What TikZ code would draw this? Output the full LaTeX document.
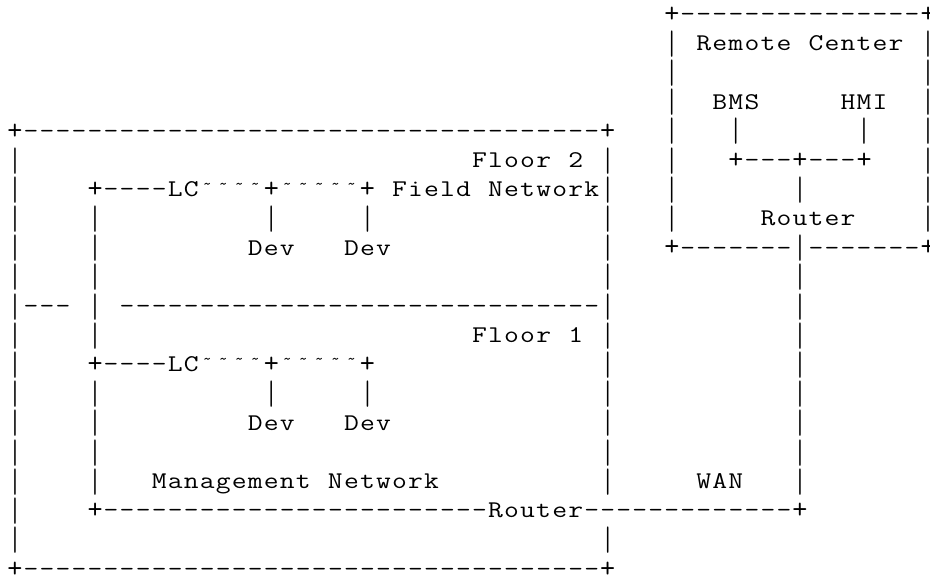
\documentclass[tikz,border=0pt]{standalone}
\usepackage{graphicx}

% width of one character cell of the grid
\newlength\cellw
\setlength\cellw{8.01pt}

% line-drawing characters, sized to fill their cells
\newcommand\asciidash{\resizebox{7.4pt}{\height}{-}}
\newcommand\asciibar{\raisebox{-3.2pt}{\resizebox*{\width}{13.2pt}{\raisebox{\depth}{|}}}}
\newcommand\asciiplus{\raisebox{-0.4pt}{\scalebox{1.22}{+}}}
\newcommand\asciitilde{\raisebox{3.6pt}{\resizebox{4.4pt}{!}{\char"7E}}}
% letters are set a little wider, like a typewriter face
\newcommand\asciiletter[1]{\scalebox{1.2}[1]{#1}}

% set a string one character per cell
\ExplSyntaxOn
\cs_new_protected:Npn \asc_glyph:n #1
  {
    \str_if_eq:eeTF {#1} { \c_tilde_str }
      { \makebox[\cellw]{\asciitilde} }
      {
        \str_case:nnF {#1}
          {
            { - } { \makebox[\cellw]{\asciidash} }
            { | } { \makebox[\cellw]{\asciibar} }
            { + } { \makebox[\cellw]{\asciiplus} }
          }
          { \makebox[\cellw]{\asciiletter{#1}} }
      }
  }
\NewDocumentCommand \ascii { m }
  { \str_map_inline:nn {#1} { \asc_glyph:n {##1} } }
\ExplSyntaxOff

\begin{document}
\begin{tikzpicture}[x=0.5pt,y=-0.5pt,
  asc/.style={anchor=base west,inner sep=0pt,outer sep=0pt,
    font=\ttfamily\fontsize{12pt}{14pt}\selectfont}]
\useasboundingbox (0,0) rectangle (930,577);
% text placed at grid column #2, row #3
\newcommand\gridtext[4]{\node[asc] (#1) at ({6.99+16.02*#2},{21.5+29.2*#3}) {\ascii{#4}};}

% ---- Remote Center ----
\gridtext{rcTop}{41}{0}{+---------------+}
\foreach \r in {1,2,3,4,5,6,7} {
  \gridtext{rcL\r}{41}{\r}{|}
  \gridtext{rcR\r}{57}{\r}{|}
}
\gridtext{rcName}{43}{1}{Remote Center}
\gridtext{bms}{44}{3}{BMS}
\gridtext{hmi}{52}{3}{HMI}
\gridtext{bmsLink}{45}{4}{|}
\gridtext{hmiLink}{53}{4}{|}
\gridtext{hub}{45}{5}{+---+---+}
\gridtext{hubLink}{49}{6}{|}
\gridtext{rcRouter}{47}{7}{Router}
\gridtext{rcBot}{41}{8}{+-------|-------+}

% ---- WAN link ----
\foreach \r in {9,10,11,12,13,14,15,16} {
  \gridtext{wan\r}{49}{\r}{|}
}
\gridtext{wan}{43}{16}{WAN}

% ---- Building ----
\gridtext{bTop}{0}{4}{+------------------------------------+}
\gridtext{bBot}{0}{19}{+------------------------------------+}
\foreach \r in {5,6,7,8,9,11,12,13,14,15,16,17,18} {
  \gridtext{bL\r}{0}{\r}{|}
}
\foreach \r in {5,6,7,8,9,11,12,13,14,15,16,18} {
  \gridtext{bR\r}{37}{\r}{|}
}
\gridtext{bL10}{0}{10}{|---}
\gridtext{floorSep}{7}{10}{------------------------------|}

% management network trunk
\foreach \r in {7,8,9,10,11,13,14,15,16} {
  \gridtext{mn\r}{5}{\r}{|}
}
\gridtext{mgmt}{9}{16}{Management Network}
\gridtext{trunk}{5}{17}{+------------------------Router-------------+}

% floor 2
\gridtext{floor2}{29}{5}{Floor 2}
\gridtext{lc2}{5}{6}{+----LC~~~~+~~~~~+}
\gridtext{field}{24}{6}{Field Network}
\gridtext{d2aLink}{16}{7}{|}
\gridtext{d2bLink}{22}{7}{|}
\gridtext{d2a}{15}{8}{Dev}
\gridtext{d2b}{21}{8}{Dev}

% floor 1
\gridtext{floor1}{29}{11}{Floor 1}
\gridtext{lc1}{5}{12}{+----LC~~~~+~~~~~+}
\gridtext{d1aLink}{16}{13}{|}
\gridtext{d1bLink}{22}{13}{|}
\gridtext{d1a}{15}{14}{Dev}
\gridtext{d1b}{21}{14}{Dev}
\end{tikzpicture}
\end{document}
